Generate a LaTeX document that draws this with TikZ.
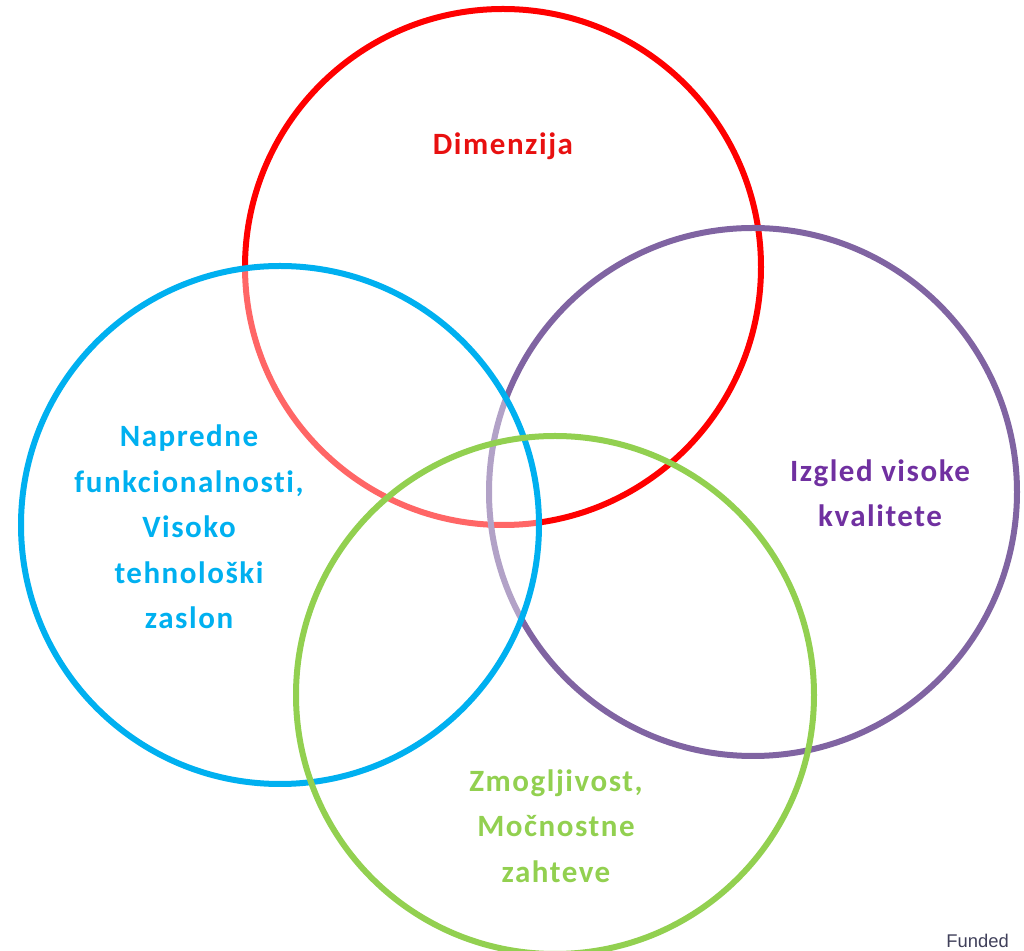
\documentclass[tikz,border=0pt]{standalone}
\usepackage{fontspec}
\setmainfont{Carlito}[LetterSpace=5, Ligatures={NoCommon}]
\newfontfamily\fundfont{Liberation Sans}
\usepackage{tikz}
\usetikzlibrary{positioning}
\definecolor{vred}{HTML}{FF0000}
\definecolor{vblue}{HTML}{00B0F0}
\definecolor{vpurple}{HTML}{8064A2}
\definecolor{vgreen}{HTML}{92D050}
\definecolor{tred}{HTML}{E81010}
\definecolor{tpurple}{HTML}{7030A0}
\definecolor{fundgray}{HTML}{40405A}

\begin{document}
\begin{tikzpicture}[x=0.5pt,y=-0.5pt,
    ring/.style={line width=3pt},
    label/.style={font=\fontsize{15.5}{22.7}\selectfont\bfseries, align=center, inner sep=0pt}]
      \useasboundingbox (0,0) rectangle (1024,951);
      \coordinate (cdim) at (503,267);
      \coordinate (cfun) at (280,525);
      \coordinate (cizg) at (753,492);
      \coordinate (czmo) at (555,695);
      \draw [ring, vred] (cdim) circle [radius=129pt];
      \draw [ring, vpurple] (cizg) circle [radius=132pt];
      \draw [ring, vblue, fill=white, fill opacity=0.4] (cfun) circle [radius=129.5pt];
      \draw [ring, vgreen] (czmo) circle [radius=129.5pt];
      \node [label, tred] (dim) at (503,146) {Dimenzija};
      \node [label, vblue] (fun) at (189,527) {Napredne\\funkcionalnosti,\\Visoko\\tehnološki\\zaslon};
      \node [label, tpurple] (izg) at (880,493) {Izgled visoke\\kvalitete};
      \node [label, vgreen] (zmo) at (556,826) {Zmogljivost,\\Močnostne\\zahteve};
      \node [font=\fundfont\fontsize{9.2}{11}\selectfont, fundgray, anchor=base west, inner sep=0pt] (fund) at (946,948) {Funded};
    \end{tikzpicture}
\end{document}
